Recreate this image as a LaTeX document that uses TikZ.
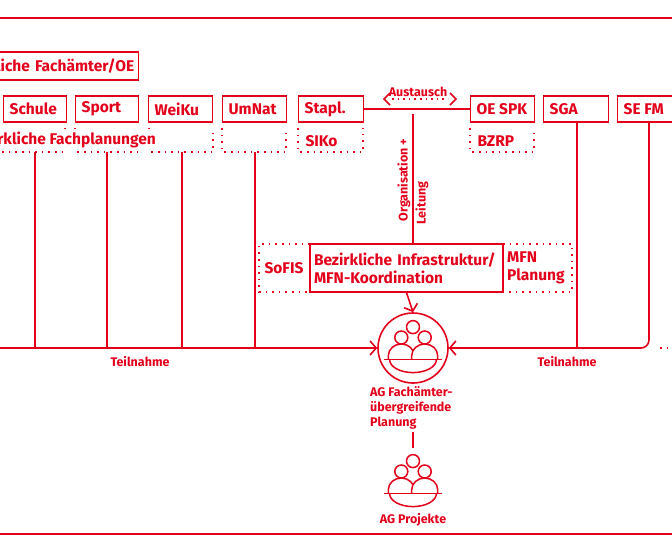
\documentclass[tikz,border=0pt]{standalone}
\usepackage{fontspec}
\setmainfont{Fira Sans}
\usetikzlibrary{arrows.meta}
\definecolor{rd}{RGB}{226,0,26}
\begin{document}
\begin{tikzpicture}[x=1pt,y=-1pt,
  every node/.style={text=rd,font=\fontseries{sb}\fontsize{15.5}{18}\selectfont},
  box/.style={draw=rd,line width=1.3pt,inner sep=0pt,minimum height=26pt},
  ln/.style={draw=rd,line width=1.6pt},
  dot/.style={draw=rd,line width=1.6pt,dash pattern=on 1.6pt off 5pt},
  small/.style={font=\bfseries\fontsize{12.5}{15}\selectfont},
  chev/.style={-{Straight Barb[length=6pt,width=14pt,line width=1.6pt]}}]
\useasboundingbox (0,0) rectangle (672,550);
\clip (0,0) rectangle (672,550);
\draw[ln] (0,18) -- (672,18);
\draw[ln] (0,534) -- (672,534);
% header
\node[box,anchor=east,minimum width=220pt,text width=212pt,align=right,minimum height=28pt] (hdr) at (139,66) {Bezirkliche Fachämter/OE};
% row boxes
\foreach \n/\a/\b/\t in {schule/3/66/Schule,sport/75/138/Sport,weiku/148/212/WeiKu,umnat/222/286/UmNat,stapl/298/363/Stapl.,oespk/470/534/OE SPK,sga/543/608/SGA,sefm/617/690/SE FM}{
  \node[box,minimum width={\b-\a},anchor=west,inner xsep=6pt] (\n) at (\a,109) {\makebox[\dimexpr\b pt-\a pt-12pt\relax][l]{\t}};
}
% dotted boxes
\foreach \a/\b in {-20/65,75/139,149/213,222/286,298/363,470/534}{
  \draw[dot] (\a,128) -- (\a,152) -- (\b,152) -- (\b,128);
}
\node[anchor=east,fill=white,inner xsep=1pt] (bfp) at (157,140) {Bezirkliche Fachplanungen};
\node[anchor=west] (siko) at (302,141) {SIKo};
\node[anchor=west] (bzrp) at (474,141) {BZRP};
% central
\node[box,minimum width=193pt,minimum height=48pt,align=left,text width=185pt] (bik) at (406.5,268) {Bezirkliche Infrastruktur/\\MFN-Koordination};
\draw[dot] (310,244) -- (259,244) -- (259,292) -- (310,292);
\draw[dot] (503,244) -- (572,244) -- (572,292) -- (503,292);
\node (sofis) at (284,268) {SoFIS};
\node[align=left,anchor=west,inner xsep=2pt] (mfn) at (505,268) {MFN\\Planung};
% exchange
\draw[ln] (stapl.east) -- (oespk.west);
\coordinate (j) at (413,114);
\draw[ln] (j) -- (413,244);
\node[small,rotate=90] (org) at (404,180) {Organisation +};
\node[small,rotate=90] (lei) at (422,203) {Leitung};
\node[small] (aus) at (418,92) {Austausch};
\draw[dot,dash pattern=on 1.6pt off 4pt] (392,99) -- (448,99);
\draw[ln] (390,93) -- (384,99) -- (390,105);
\draw[ln] (450,93) -- (456,99) -- (450,105);
% circle
\node[draw=rd,line width=1.6pt,circle,minimum size=70pt] (ag) at (413,348) {};
\draw[ln,chev] (bik.south) -- (ag.north);
\draw[ln,chev] (0,348) -- (ag.west);
\foreach \x in {35,107,182,255} \draw[ln] (\x,152) -- (\x,348);
\draw[ln] (577,122) -- (577,348);
\draw[ln,chev,rounded corners=8pt] (649,122) -- (649,348) -- (ag.east);
\draw[dot] (660,348) -- (672,348);
\node[small] (t1) at (140,362) {Teilnahme};
\node[small] (t2) at (567,362) {Teilnahme};
% people icons
\tikzset{ppl/.pic={
  \draw[rd,line width=1.5pt] (0pt,13pt) circle (5pt);
  \draw[rd,line width=1.5pt,fill=white] (-9pt,5pt) circle (5pt);
  \draw[rd,line width=1.5pt,fill=white] (9pt,5pt) circle (5pt);
  \draw[rd,line width=1.5pt,fill=white] (-19pt,-12pt) -- (-19pt,-9pt) arc[start angle=180,end angle=0,x radius=10pt,y radius=9pt] -- (1pt,-12pt);
  \draw[rd,line width=1.5pt,fill=white] (-1pt,-12pt) -- (-1pt,-9pt) arc[start angle=180,end angle=0,x radius=10pt,y radius=9pt] -- (19pt,-12pt);
  \draw[rd,line width=1.5pt] (-22pt,-12pt) -- (22pt,-12pt);
  \draw[rd,line width=1.5pt] (-18pt,-12pt) arc[start angle=180,end angle=360,x radius=18pt,y radius=10pt];
}}
\pic[scale=1.3] at (413,344) {ppl};
\pic[scale=1.3] at (413,478) {ppl};
\node[small,align=left,anchor=north west,inner sep=0pt] (agt) at (370,386) {AG Fachämter-\\übergreifende\\Planung};
\coordinate (l1) at (413,432);
\coordinate (l2) at (413,448);
\draw[ln] (l1) -- (l2);
\node[small] (agp) at (413,520) {AG Projekte};
\end{tikzpicture}
\end{document}
